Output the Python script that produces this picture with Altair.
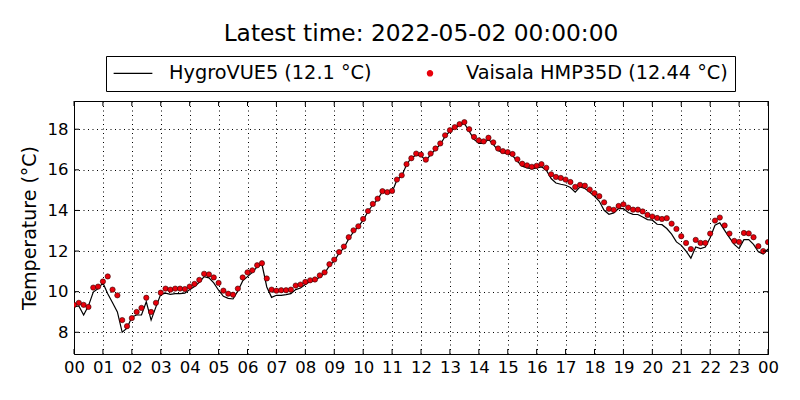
import altair as alt
import pandas as pd

title_text = "Latest time: 2022-05-02 00:00:00"
hygro_label = "HygroVUE5 (12.1 °C)"
vaisala_label = "Vaisala HMP35D (12.44 °C)"
y_title = "Temperature (°C)"
y_ticks = [8, 10, 12, 14, 16, 18]
y_domain = [6.93, 19.39]
hour_ticks = list(range(25))          # 00 .. 23, 00 (next day)
step_minutes = 10                     # readings every 10 minutes

# 10-minute readings, 2022-05-01 00:00 .. 2022-05-02 00:00
hygro = [
    9.25, 9.3, 8.85, 9.3, 9.98, 10.15, 10.43, 9.9, 9.45, 9.0, 8.0, 8.2,
    8.75, 8.85, 8.85, 9.5, 8.6, 9.25, 9.87, 9.93, 9.87, 9.9, 9.9, 9.93,
    10.1, 10.25, 10.46, 10.74, 10.68, 10.43, 10.07, 9.77, 9.67, 9.64, 10.03, 10.53,
    10.74, 10.95, 11.22, 11.35, 10.23, 9.72, 9.82, 9.82, 9.85, 9.9, 10.1, 10.18,
    10.35, 10.5, 10.55, 10.72, 10.9, 11.28, 11.5, 11.9, 12.15, 12.6, 12.95, 13.2,
    13.52, 13.95, 14.28, 14.55, 14.92, 14.85, 14.9, 15.5, 15.7, 16.25, 16.6, 16.72,
    16.7, 16.45, 16.75, 17.0, 17.25, 17.65, 17.9, 18.05, 18.2, 18.28, 17.9, 17.5,
    17.3, 17.3, 17.5, 17.25, 16.95, 16.85, 16.8, 16.7, 16.42, 16.18, 16.1, 16.05,
    16.1, 16.15, 15.98, 15.57, 15.35, 15.29, 15.24, 15.13, 14.9, 15.16, 15.08, 14.91,
    14.7, 14.45, 14.01, 13.81, 13.88, 14.09, 14.09, 13.9, 13.81, 13.8, 13.68, 13.55,
    13.52, 13.32, 13.3, 13.11, 12.83, 12.45, 12.28, 12.0, 11.65, 12.2, 12.12, 12.2,
    12.66, 13.27, 13.39, 13.02, 12.66, 12.33, 12.12, 12.56, 12.56, 12.33, 11.96, 11.85,
    12.1,
]
vaisala = [
    9.35, 9.45, 9.35, 9.25, 10.2, 10.25, 10.5, 10.75, 10.1, 9.82, 8.6, 8.3,
    8.7, 9.0, 9.2, 9.7, 9.0, 9.45, 9.95, 10.15, 10.1, 10.15, 10.15, 10.13,
    10.25, 10.38, 10.58, 10.88, 10.85, 10.7, 10.43, 10.05, 9.9, 9.85, 10.15, 10.7,
    10.95, 11.05, 11.3, 11.4, 10.65, 10.1, 10.05, 10.07, 10.07, 10.1, 10.3, 10.35,
    10.48, 10.56, 10.6, 10.8, 10.95, 11.35, 11.58, 11.95, 12.22, 12.68, 13.02, 13.22,
    13.58, 13.97, 14.32, 14.58, 14.95, 14.9, 14.96, 15.52, 15.73, 16.28, 16.57, 16.8,
    16.75, 16.5, 16.8, 17.05, 17.3, 17.7, 17.95, 18.1, 18.25, 18.35, 18.0, 17.62,
    17.45, 17.4, 17.58, 17.35, 17.05, 16.92, 16.87, 16.78, 16.52, 16.3, 16.22, 16.15,
    16.2, 16.28, 16.1, 15.78, 15.65, 15.6, 15.52, 15.4, 15.16, 15.26, 15.22, 15.03,
    14.85, 14.7, 14.4, 14.08, 14.03, 14.22, 14.3, 14.14, 14.04, 14.04, 13.95, 13.78,
    13.7, 13.63, 13.58, 13.62, 13.35, 13.09, 12.73, 12.4, 12.1, 12.55, 12.4, 12.4,
    12.86, 13.5, 13.65, 13.26, 12.86, 12.5, 12.45, 12.89, 12.87, 12.68, 12.24, 12.0,
    12.44,
]

hours = [i * step_minutes / 60 for i in range(len(hygro))]

line_df = pd.DataFrame({"hour": hours, "temp": hygro, "series": hygro_label})
pt_df = pd.DataFrame({"hour": hours, "temp": vaisala, "series": vaisala_label})
hour_df = pd.DataFrame({"hour": hour_ticks})
ytick_df = pd.DataFrame({"temp": y_ticks})

W, H = 694, 253
FONT = "DejaVu Sans"
series_domain = [hygro_label, vaisala_label]

x_scale = alt.Scale(domain=[0, 24], nice=False, zero=False)
y_scale = alt.Scale(domain=y_domain, nice=False, zero=False)
x_axis = alt.Axis(values=hour_ticks, labelFlush=False, labelOverlap=False, title=None,
                  labelExpr="datum.value >= 24 ? '00' : (datum.value < 10 ? '0' + datum.value : '' + datum.value)")
y_axis = alt.Axis(values=y_ticks, labelFlush=False, labelOverlap=False, title=y_title)

color_scale = alt.Scale(domain=series_domain, range=["black", "#e8000b"])
shape_scale = alt.Scale(domain=series_domain, range=["stroke", "circle"])
size_scale = alt.Scale(domain=series_domain, range=[1500, 28])

X = alt.X("hour:Q", scale=x_scale, axis=x_axis, title=None)
Y = alt.Y("temp:Q", scale=y_scale, axis=y_axis, title=y_title)

line = alt.Chart(line_df).mark_line(strokeWidth=1.2, clip=True).encode(
    x=X, y=Y,
    color=alt.Color("series:N", scale=color_scale, legend=alt.Legend(title=None)),
)
points = alt.Chart(pt_df).mark_point(filled=True, stroke="#300000", strokeWidth=0.6,
                                     opacity=1, clip=True).encode(
    x=X, y=Y,
    color=alt.Color("series:N", scale=color_scale, legend=alt.Legend(title=None)),
    shape=alt.Shape("series:N", scale=shape_scale, legend=alt.Legend(title=None)),
    size=alt.Size("series:N", scale=size_scale, legend=alt.Legend(title=None)),
)

tick_style = dict(color="black", strokeWidth=1)
xt_top = alt.Chart(hour_df).mark_rule(**tick_style).encode(
    x=X, y=alt.value(0), y2=alt.value(5))
xt_bot = alt.Chart(hour_df).mark_rule(**tick_style).encode(
    x=X, y=alt.value(H - 5), y2=alt.value(H))
yt_left = alt.Chart(ytick_df).mark_rule(**tick_style).encode(
    y=Y, x=alt.value(0), x2=alt.value(5))
yt_right = alt.Chart(ytick_df).mark_rule(**tick_style).encode(
    y=Y, x=alt.value(W - 5), x2=alt.value(W))

chart = alt.layer(line, points, xt_top, xt_bot, yt_left, yt_right).properties(
    width=W, height=H,
    title=alt.TitleParams(text=title_text, fontSize=23.3, font=FONT, fontWeight="normal",
                          color="black", anchor="middle", offset=-14, baseline="bottom"),
    autosize=alt.AutoSizeParams(type="none"),
    padding={"left": 66, "top": 93, "right": 24, "bottom": 38},
    background="white",
).configure_view(
    stroke="black", strokeWidth=1
).configure_axis(
    domain=False, ticks=False,
    labelFont=FONT, labelFontSize=16.5, labelColor="black", labelPadding=5,
    titleFont=FONT, titleFontSize=19, titleColor="black", titleFontWeight="normal",
    titlePadding=8,
    grid=True, gridColor="black", gridDash=[1, 3.5], gridOpacity=1, gridWidth=1,
).configure_axisY(
    labelPadding=6
).configure_legend(
    orient="none", legendX=32, legendY=-45, direction="horizontal", columns=2,
    columnPadding=38, labelOffset=16, padding=7,
    strokeColor="black", fillColor="white", cornerRadius=0,
    labelFont=FONT, labelFontSize=19.3, labelColor="black", labelLimit=400,
    symbolStrokeWidth=1.2, symbolStrokeColor="black", clipHeight=20,
)

chart.save("out.html", embed_options={"renderer": "svg", "actions": False})
